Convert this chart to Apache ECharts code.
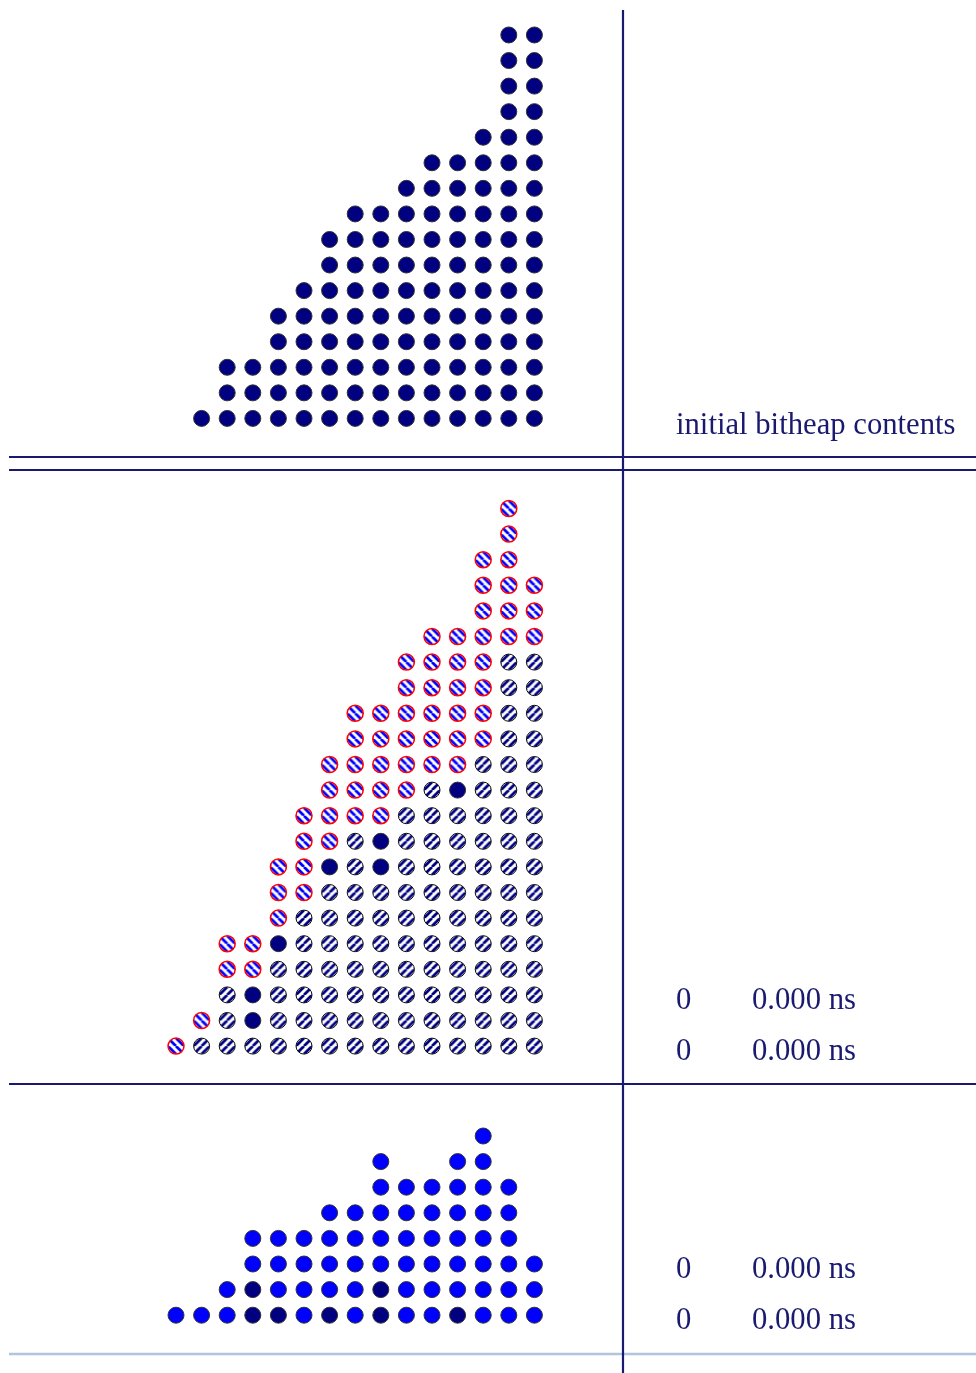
<!DOCTYPE html>
<html><head><meta charset="utf-8">
<script src="https://cdn.jsdelivr.net/npm/echarts@6/dist/echarts.min.js"></script>
<style>html,body{margin:0;padding:0;background:#fff}#c{width:976px;height:1373px}</style>
</head><body><div id="c"></div>
<script>
// Column index 0 = rightmost (weight 0) column of the bitheap
const columns = [0,1,2,3,4,5,6,7,8,9,10,11,12,13,14];
// initial bitheap: number of bits per column
const initialHeights = [16,16,12,11,11,10,9,9,8,6,5,3,3,1,0];
// stage 1: bits newly produced (drawn on top of the initial bits)
const newBitHeights = [3,6,8,6,6,6,5,5,4,4,3,2,2,1,1];
// stage 1: initial bits that are still unconsumed [column, row]
const stage1Solid = [[3,10],[6,8],[8,7],[6,7],[10,4],[11,2],[11,1]];
// final stage: bits per column and bits kept from earlier stages [column, row]
const finalHeights = [3,6,8,7,6,6,7,5,5,4,4,4,2,1,1];
const finalDark = [[11,0],[10,0],[8,0],[6,0],[3,0],[11,1],[6,1]];
// right-hand annotations
const headerLabel = 'initial bitheap contents';
const stage1Rows = [['0','0.000 ns'],['0','0.000 ns']];
const stage2Rows = [['0','0.000 ns'],['0','0.000 ns']];

const DOT = 16;
function makeHatch(color, dir){
  const s = 8, cv = document.createElement('canvas');
  cv.width = s; cv.height = s;
  const ctx = cv.getContext('2d');
  ctx.fillStyle = '#fff'; ctx.fillRect(0,0,s,s);
  ctx.strokeStyle = color; ctx.lineWidth = 2.8;
  ctx.beginPath();
  for (let k=-1;k<=1;k++){
    if (dir === '/') { ctx.moveTo(k*s, s); ctx.lineTo(k*s+s, 0); }
    else { ctx.moveTo(k*s, 0); ctx.lineTo(k*s+s, s); }
  }
  ctx.stroke();
  return cv;
}
// symbols are unit paths scaled by DOT/2, so undo that scale on the pattern
const ps = 2/DOT;
const hatchNavy = {image: makeHatch('#000080','/'), repeat:'repeat', scaleX:ps, scaleY:ps};
const hatchBlue = {image: makeHatch('#0000ff','\\'), repeat:'repeat', scaleX:ps, scaleY:ps};

const key = (c,r)=>c+'_'+r;
const topPts = [];
columns.forEach(c=>{ for(let r=0;r<initialHeights[c];r++) topPts.push([c,r]); });
const solidSet = new Set(stage1Solid.map(p=>key(p[0],p[1])));
const midHatch = [], midSolid = [], midNew = [];
columns.forEach(c=>{
  for(let r=0;r<initialHeights[c];r++){
    (solidSet.has(key(c,r)) ? midSolid : midHatch).push([c,r]);
  }
  for(let r=0;r<newBitHeights[c];r++) midNew.push([c, initialHeights[c]+r]);
});
const darkSet = new Set(finalDark.map(p=>key(p[0],p[1])));
const botBlue = [], botDark = [];
columns.forEach(c=>{ for(let r=0;r<finalHeights[c];r++) (darkSet.has(key(c,r))?botDark:botBlue).push([c,r]); });

const rowsTop = Math.max(...initialHeights);
const rowsMid = Math.max(...columns.map(c=>initialHeights[c]+newBitHeights[c]));
const rowsBot = Math.max(...finalHeights);

const gx = {left:163.2, width:384};
const grids = [
  Object.assign({top:22.2, height:409}, gx),
  Object.assign({top:495.7, height:563.2}, gx),
  Object.assign({top:1123.2, height:204.8}, gx)
];
const xAxes = [0,1,2].map(i=>({gridIndex:i,type:'value',min:-0.5,max:columns.length-0.5,inverse:true,show:false}));
const yAxes = [rowsTop,rowsMid,rowsBot].map((n,i)=>({gridIndex:i,type:'value',min:-0.5,max:n-0.5,show:false}));

function sc(i, data, fill, stroke, bw){
  return {type:'scatter', xAxisIndex:i, yAxisIndex:i, data, symbol:'circle', symbolSize:DOT, silent:true,
    itemStyle:{color:fill, borderColor:stroke, borderWidth:bw, opacity:1}, emphasis:{disabled:true}, animation:false};
}

const txtColor = '#191970';
const font = '30.7px "Liberation Serif", "Times New Roman", serif';
const graphics = [];
function txt(x, baseline, text){
  graphics.push({type:'text', x:x, y:baseline-8.5, z:50, silent:true,
    style:{text:text, fill:txtColor, font:font, verticalAlign:'middle', textVerticalAlign:'middle'}});
}
txt(676, 434, headerLabel);
[1009,1060].forEach((b,i)=>{ txt(676,b,stage1Rows[i][0]); txt(752,b,stage1Rows[i][1]); });
[1278.5,1329.5].forEach((b,i)=>{ txt(676,b,stage2Rows[i][0]); txt(752,b,stage2Rows[i][1]); });
function ln(x1,y1,x2,y2,color,w,z){
  graphics.push({type:'line', z:z, silent:true, shape:{x1,y1,x2,y2}, style:{stroke:color, lineWidth:w}});
}
ln(9,1354,976,1354,'#b0c4de',2.5,40);
ln(9,457,976,457,txtColor,2.2,45);
ln(9,470,976,470,txtColor,2.2,45);
ln(9,1084,976,1084,txtColor,2.2,45);
ln(623,10,623,1373,txtColor,2.2,46);

const chart = echarts.init(document.getElementById('c'), null, {renderer:'canvas'});
chart.setOption({
  backgroundColor:'#fff',
  animation:false,
  grid:grids, xAxis:xAxes, yAxis:yAxes,
  series:[
    sc(0, topPts, '#000080', '#333', 1),
    sc(1, midHatch, hatchNavy, '#111', 1),
    sc(1, midSolid, '#000080', '#333', 1),
    sc(1, midNew, hatchBlue, '#ff0000', 1.5),
    sc(2, botBlue, '#0000ff', '#333', 1),
    sc(2, botDark, '#000080', '#333', 1)
  ],
  graphic: graphics
});
</script></body></html>
